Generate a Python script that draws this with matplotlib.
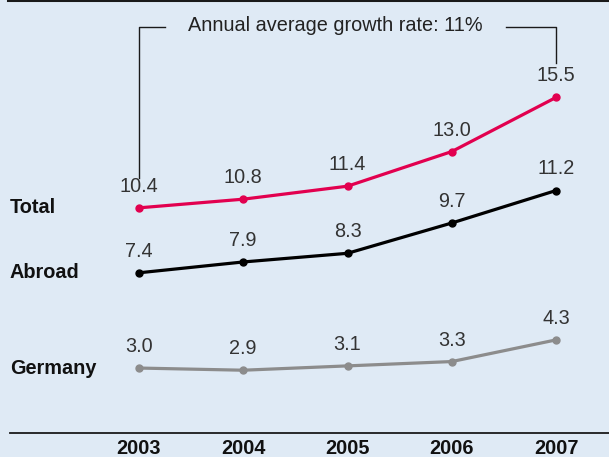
import matplotlib.pyplot as plt

# data
years = [2003, 2004, 2005, 2006, 2007]
total = [10.4, 10.8, 11.4, 13.0, 15.5]
abroad = [7.4, 7.9, 8.3, 9.7, 11.2]
germany = [3.0, 2.9, 3.1, 3.3, 4.3]
series_names = ["Total", "Abroad", "Germany"]
title_text = "Annual average growth rate: 11%"

plt.rcParams["font.family"] = ["Liberation Sans", "DejaVu Sans"]

bg = "#dfeaf5"
colors = ["#e2004f", "#000000", "#8c8c8c"]
fs = 14.3

fig = plt.figure(figsize=(6.09, 4.57), dpi=100, facecolor=bg)
ax = fig.add_axes([0, 24 / 457, 1, 433 / 457])
ax.set_facecolor(bg)
ax.set_xlim(2001.667, 2007.508)
ax.set_ylim(0, 20)
ax.axis("off")

# top and bottom rules
ax.axhline(20, xmin=0.013, color="#1a1a1a", lw=2.2, clip_on=False)
ax.axhline(0, xmin=0.0164, color="#1a1a1a", lw=1.3, clip_on=False)

for name, vals, c in zip(series_names, [total, abroad, germany], colors):
    ax.plot(years, vals, color=c, lw=2.3, marker="o", ms=5, solid_capstyle="round")
    for x, v in zip(years, vals):
        ax.annotate(f"{v:.1f}", (x, v), xytext=(0, 15.5), textcoords="offset points",
                    ha="center", va="center", fontsize=fs, color="#333333")
    ax.annotate(name, (0, vals[0]), xycoords=("figure pixels", "data"),
                xytext=(10, 0), textcoords="offset pixels",
                ha="left", va="center", fontsize=fs, fontweight="bold", color="#111111")

# year labels
for x in years:
    ax.text(x, -0.3, str(x), ha="center", va="top",
            fontsize=fs, fontweight="bold", color="#111111", clip_on=False)

# growth bracket
yb = 18.75
ax.plot([2003, 2003, 2003.25], [total[0] + 1.4, yb, yb], color="#1a1a1a", lw=1.0)
ax.plot([2006.52, 2007, 2007], [yb, yb, total[-1] + 1.6], color="#1a1a1a", lw=1.0)
ax.text(2004.885, yb + 0.05, title_text, ha="center", va="center",
        fontsize=fs, color="#222222")

fig.savefig("out.png", dpi=100, facecolor=bg)
